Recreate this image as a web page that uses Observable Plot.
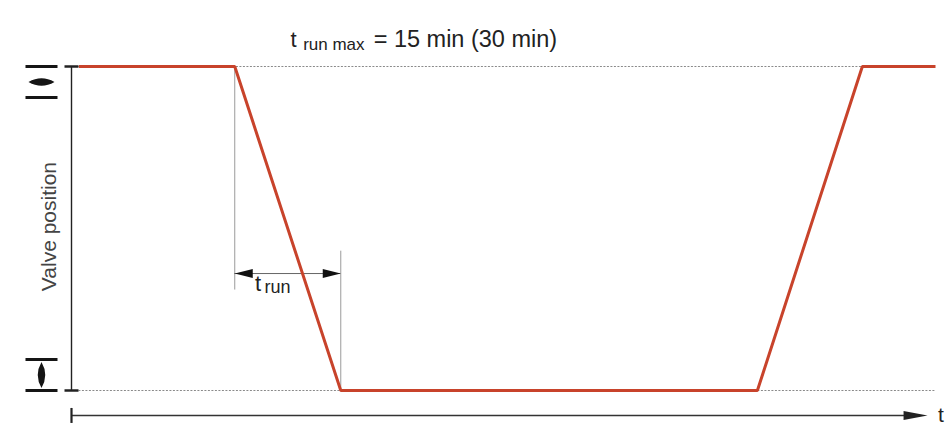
<!DOCTYPE html>
<html>
<head>
<meta charset="utf-8">
<script src="https://cdn.jsdelivr.net/npm/d3@7"></script>
<script src="https://cdn.jsdelivr.net/npm/@observablehq/plot@0.6"></script>
<style>
  html, body { margin: 0; padding: 0; background: #fff; }
  svg { display: block; }
</style>
</head>
<body>
<div id="chart"></div>
<script>
// ---- data ----
const time = [0.7, 15.4, 25.4, 64.7, 74.6, 81.5];      // time points of the valve curve
const position = [1, 1, 0, 0, 1, 1];                     // 1 = open, 0 = closed
const levels = [1, 0];                                   // valve position levels
const titleParts = ["t", "run max", "= 15 min (30 min)"];
const runLabel = ["t", "run"];
const yLabel = "Valve position";
const xLabel = "t";

const curve = time.map((t, i) => ({t, p: position[i]}));
const runStart = time[1], runEnd = time[2];
const tAxisY = -0.077, tAxisEnd = 80.75;

// ---- custom symbols ----
const hBar = w => ({draw(c) { c.rect(-w / 2, -1.25, w, 2.5); }});
const vBar = h => ({draw(c) { c.rect(-1.1, -h / 2, 2.2, h); }});
const headRight = (L, W) => ({draw(c) { c.moveTo(0, 0); c.lineTo(-L, -W); c.lineTo(-L, W); c.closePath(); }});
const headLeft = (L, W) => ({draw(c) { c.moveTo(0, 0); c.lineTo(L, -W); c.lineTo(L, W); c.closePath(); }});
const openValve = {draw(c) {
  c.rect(-16, -1.5, 32, 3);
  c.rect(-16, 29.5, 32, 3);
  c.moveTo(-13, 15.5); c.quadraticCurveTo(0, 8, 13, 15.5); c.quadraticCurveTo(0, 23, -13, 15.5); c.closePath();
}};
const closedValve = {draw(c) {
  c.rect(-16, -32.5, 32, 3);
  c.rect(-16, -1.5, 32, 3);
  c.moveTo(0, -28.5); c.quadraticCurveTo(7.5, -15.5, 0, -2.5); c.quadraticCurveTo(-7.5, -15.5, 0, -28.5); c.closePath();
}};

const font = "Liberation Sans, Arial, Helvetica, sans-serif";

const chart = Plot.plot({
  width: 950,
  height: 448,
  marginTop: 66,
  marginBottom: 58,
  marginLeft: 71,
  marginRight: 15,
  style: {fontFamily: font, background: "#fff"},
  x: {domain: [0, 81.5], axis: null},
  y: {domain: [0, 1], axis: null},
  marks: [
    // dotted level guides
    Plot.ruleY(levels, {y: d => d, x1: time[0], x2: time[time.length - 1], stroke: "#8a8a8a", strokeWidth: 1, strokeDasharray: "2,1.5"}),
    // vertical guides for t_run
    Plot.ruleX([runStart], {x: d => d, y1: 0.31, y2: 1, stroke: "#9a9a9a", strokeWidth: 1}),
    Plot.ruleX([runEnd], {x: d => d, y1: 0, y2: 0.43, stroke: "#9a9a9a", strokeWidth: 1}),
    // t_run dimension arrow
    Plot.ruleY([0.361], {y: d => d, x1: runStart, x2: runEnd, stroke: "#666", strokeWidth: 1}),
    Plot.dot([runStart], {x: d => d, y: 0.361, symbol: headLeft(18, 4.5), fill: "#111", stroke: "none"}),
    Plot.dot([runEnd], {x: d => d, y: 0.361, symbol: headRight(18, 4.5), fill: "#111", stroke: "none"}),
    // vertical axis
    Plot.ruleX([0], {x: d => d, y1: 0, y2: 1, stroke: "#222", strokeWidth: 1.4}),
    Plot.dot(levels, {x: 0, y: d => d, symbol: hBar(14), fill: "#222", stroke: "none"}),
    // valve icons
    Plot.dot([1], {x: -2.83, y: d => d, symbol: openValve, fill: "#151515", stroke: "none"}),
    Plot.dot([0], {x: -2.83, y: d => d, symbol: closedValve, fill: "#151515", stroke: "none"}),
    // time axis
    Plot.ruleY([tAxisY], {y: d => d, x1: 0, x2: tAxisEnd - 1.5, stroke: "#333", strokeWidth: 1.4}),
    Plot.dot([0], {x: d => d, y: tAxisY, symbol: vBar(15), fill: "#222", stroke: "none"}),
    Plot.dot([tAxisEnd], {x: d => d, y: tAxisY, symbol: headRight(24, 4.5), fill: "#222", stroke: "none"}),
    Plot.text([xLabel], {x: 82.0, y: tAxisY, text: d => d, fontSize: 21, lineAnchor: "middle", textAnchor: "middle", fill: "#222"}),
    // valve curve
    Plot.line(curve, {x: "t", y: "p", stroke: "#c8432b", strokeWidth: 3, strokeLinejoin: "miter", strokeLinecap: "butt"}),
    // y label
    Plot.text([yLabel], {x: -2.1, y: 0.506, text: d => d, rotate: -90, fontSize: 21, fill: "#444", lineAnchor: "middle", textAnchor: "middle"}),
    // title
    Plot.text([titleParts[0]], {x: 20.66, y: 1.0617, text: d => d, fontSize: 22, textAnchor: "start", lineAnchor: "bottom", fill: "#222"}),
    Plot.text([titleParts[1]], {x: 21.85, y: 1.050, text: d => d, fontSize: 17, textAnchor: "start", lineAnchor: "bottom", fill: "#222"}),
    Plot.text([titleParts[2]], {x: 28.5, y: 1.0617, text: d => d, fontSize: 23.5, textAnchor: "start", lineAnchor: "bottom", fill: "#222"}),
    // t_run label
    Plot.text([runLabel[0]], {x: 17.3, y: 0.3056, text: d => d, fontSize: 22, textAnchor: "start", lineAnchor: "bottom", fill: "#222"}),
    Plot.text([runLabel[1]], {x: 18.2, y: 0.2994, text: d => d, fontSize: 18, textAnchor: "start", lineAnchor: "bottom", fill: "#222"})
  ]
});
document.getElementById("chart").append(chart);
</script>
</body>
</html>
